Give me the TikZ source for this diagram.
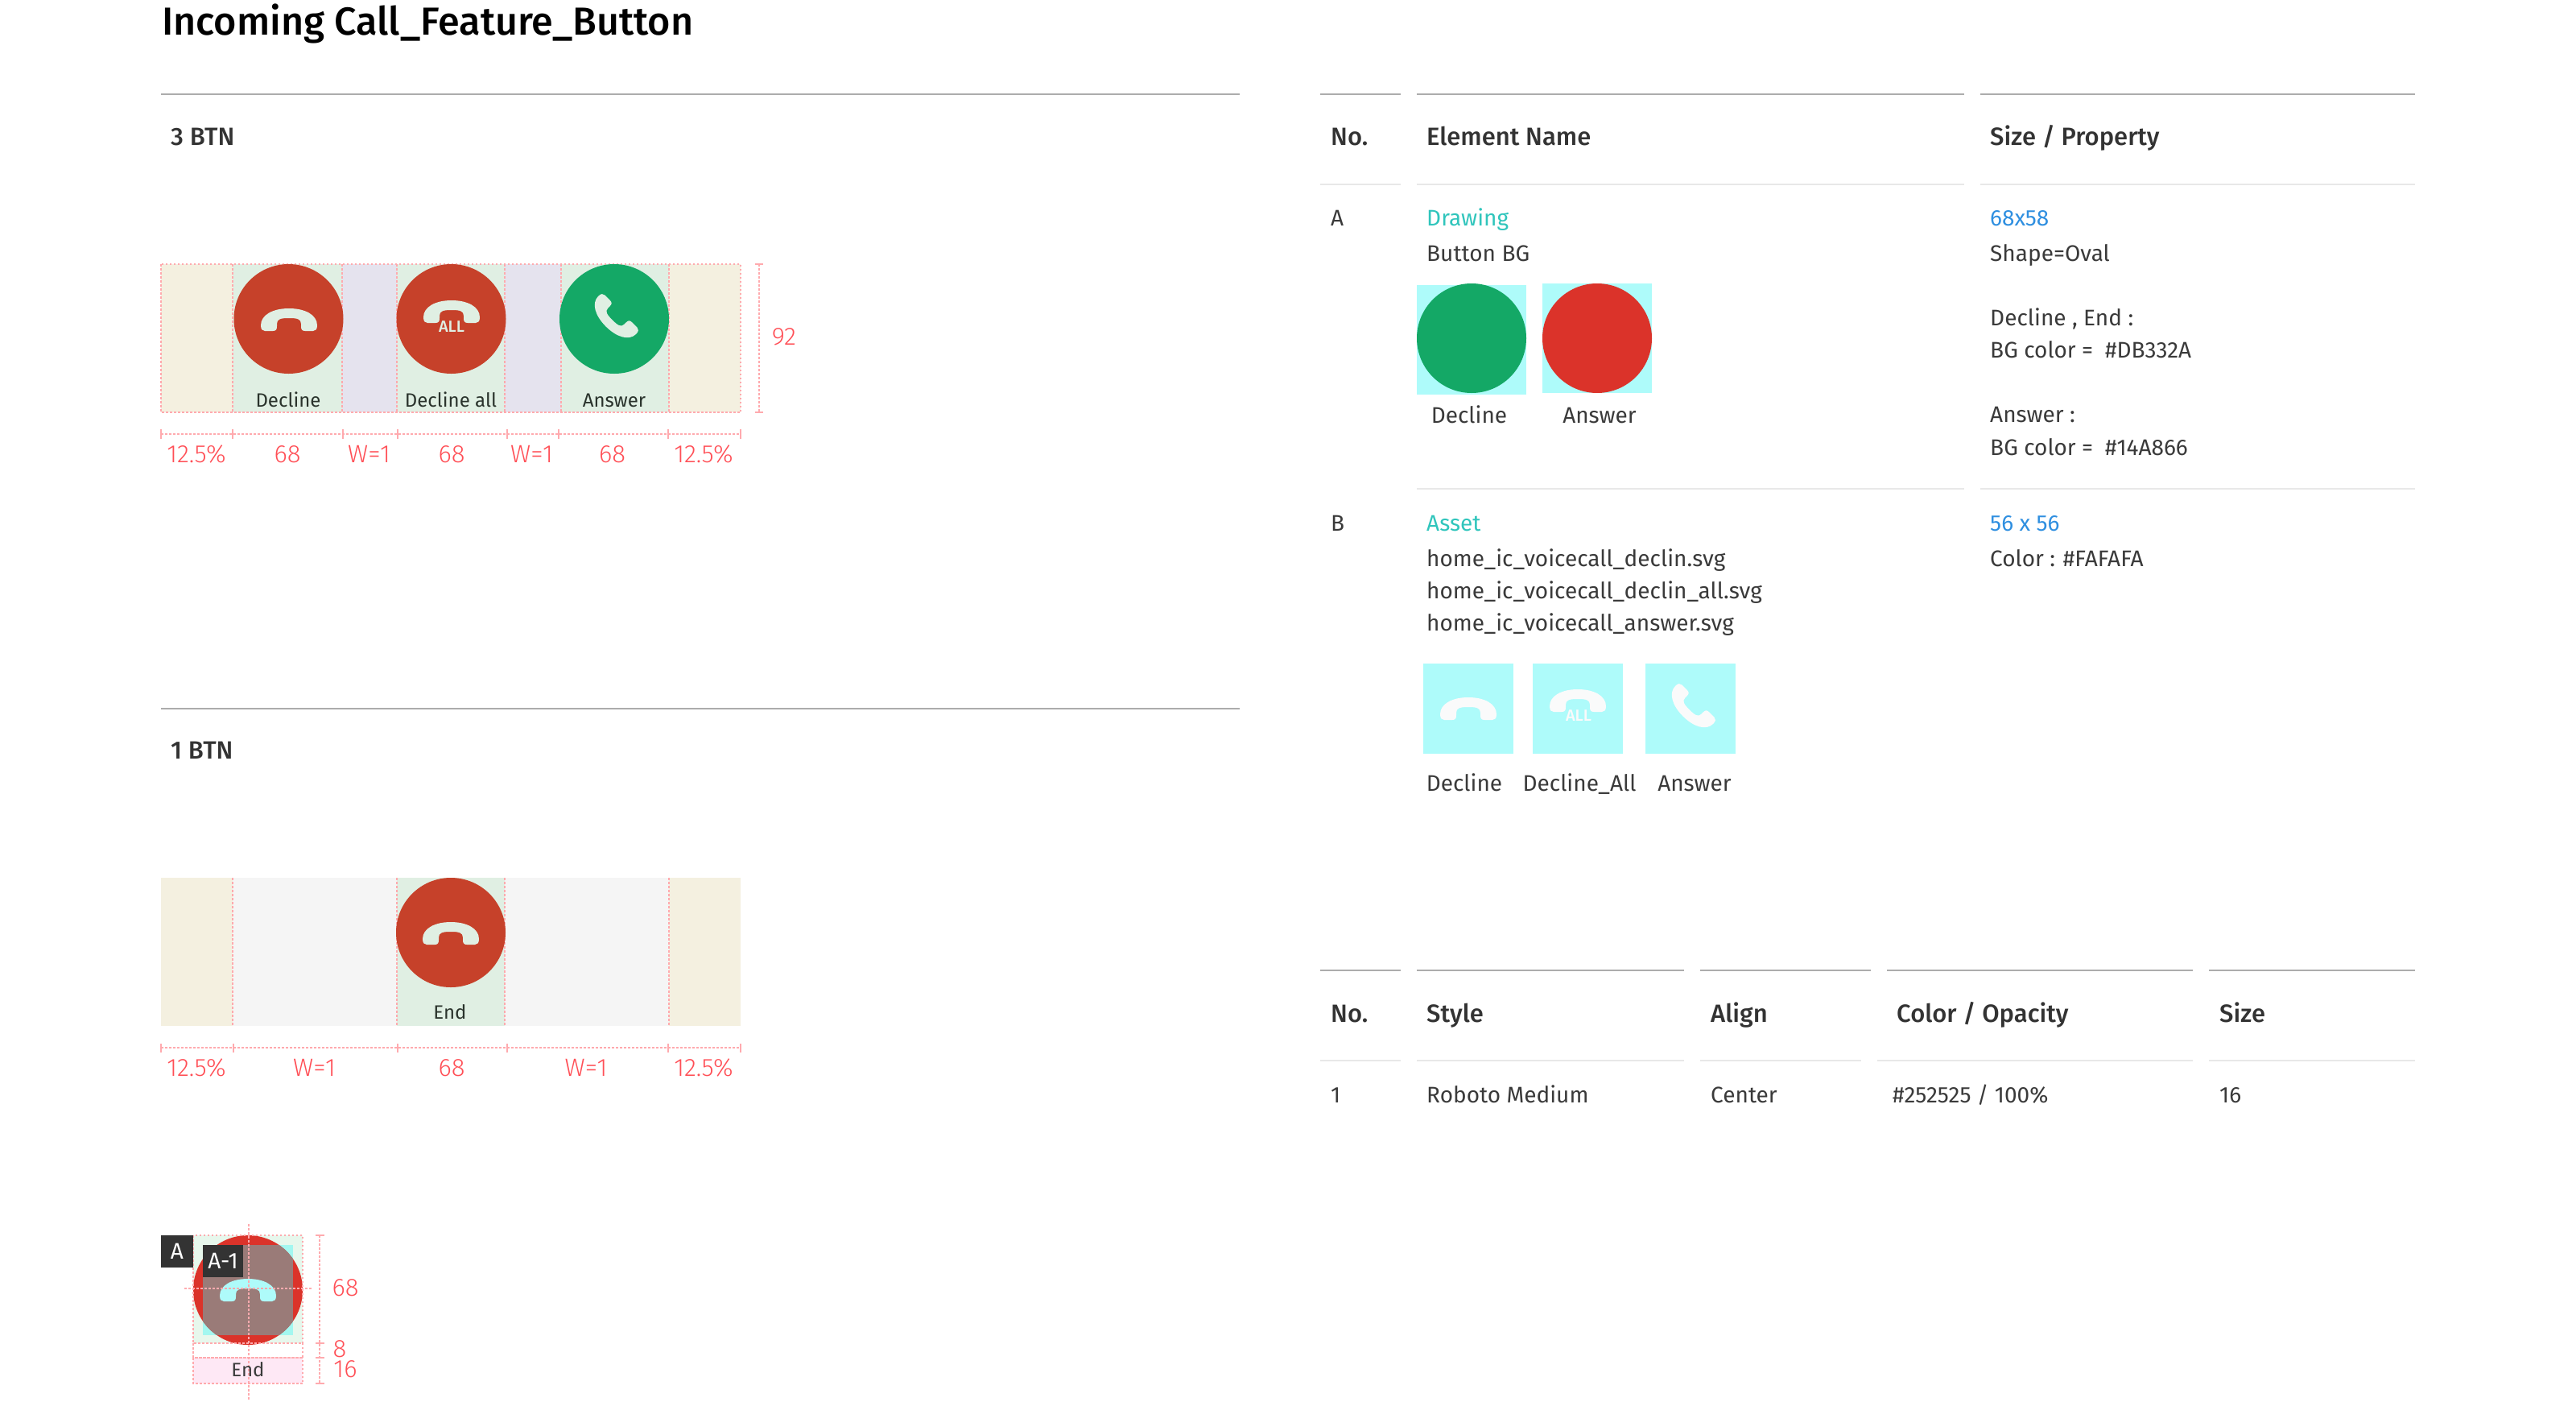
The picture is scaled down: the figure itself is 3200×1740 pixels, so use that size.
\documentclass[tikz,border=0pt]{standalone}
\usepackage{fontspec}
\setmainfont{Fira Sans}
\newfontfamily\lightfont{Fira Sans Light}
\newfontfamily\medfont{Fira Sans Medium}
\definecolor{rulegray}{HTML}{ACACAC}
\definecolor{hairgray}{HTML}{E8E8E8}
\definecolor{inktext}{HTML}{3A3A3A}
\definecolor{labelink}{HTML}{2A332C}
\definecolor{dimred}{HTML}{FF4F56}
\definecolor{dimpink}{HTML}{FFAAAE}
\definecolor{beigeband}{HTML}{F4F0E0}
\definecolor{greenband}{HTML}{E0EFE3}
\definecolor{lilacband}{HTML}{E5E3EE}
\definecolor{grayband}{HTML}{F5F5F5}
\definecolor{callred}{HTML}{C6412A}
\definecolor{callgreen}{HTML}{14A866}
\definecolor{specred}{HTML}{DB332A}
\definecolor{assetcyan}{HTML}{AEFBFA}
\definecolor{cornercyan}{HTML}{A3F7F0}
\definecolor{overlaygray}{HTML}{9A7B78}
\definecolor{paleband}{HTML}{E7F7EC}
\definecolor{pinkband}{HTML}{FEE8F5}
\definecolor{tealtext}{HTML}{30C5BC}
\definecolor{bluetext}{HTML}{2F8FE0}
\tikzset{
    txt/.style={anchor=base west,inner sep=0pt,text=inktext,font=\fontsize{28}{34}\selectfont},
    head/.style={anchor=base west,inner sep=0pt,text=black!80,font=\medfont\fontsize{31}{38}\selectfont},
    ctr/.style={anchor=base,inner sep=0pt,text=inktext,font=\fontsize{28}{34}\selectfont},
    btnlabel/.style={anchor=base,inner sep=0pt,text=labelink,font=\fontsize{24}{28}\selectfont},
    dimlabel/.style={anchor=base,inner sep=0pt,text=dimred,font=\lightfont\fontsize{31}{36}\selectfont},
    alllabel/.style={inner sep=0pt,font=\medfont\fontsize{20}{24}\selectfont},
    tag/.style={inner sep=0pt,text=white,font=\fontsize{28}{34}\selectfont},
    majorrule/.style={draw=rulegray,line width=2.5pt},
    minorrule/.style={draw=hairgray,line width=2pt},
    dotline/.style={draw=dimpink,line width=2pt,dash pattern=on 2.5pt off 2.5pt},
    dimtick/.style={draw=dimpink,line width=2pt},
    pics/handset/.style={code={
        \path[pic actions] (-35,7) .. controls (-35,-6) and (-20,-14) .. (0,-14)
            .. controls (20,-14) and (35,-6) .. (35,7)
            .. controls (35,12) and (33,14) .. (30,14) -- (20,14)
            .. controls (16,14) and (15,12) .. (15,8) -- (15,5)
            .. controls (15,-1) and (10,-2) .. (0,-2)
            .. controls (-10,-2) and (-15,-1) .. (-15,5) -- (-15,8)
            .. controls (-15,12) and (-16,14) .. (-20,14) -- (-30,14)
            .. controls (-33,14) and (-35,12) .. (-35,7) -- cycle;
    }},
}
\begin{document}
\begin{tikzpicture}[x=1pt,y=-1pt]
    \useasboundingbox (0,0) rectangle (3200,1740);

    % Title and section rules
    \node[anchor=base west,inner sep=0pt,font=\medfont\fontsize{48.5}{58}\selectfont] (title) at (201,43) {Incoming Call\_Feature\_Button};
    \draw[majorrule] (200,117) -- (1540,117);
    \draw[majorrule] (200,880) -- (1540,880);
    \node[head] (btn3) at (212,180) {3 BTN};
    \node[head] (btn1) at (212,942) {1 BTN};

    % 3 BTN bands
    \fill[beigeband] (200,328) rectangle (920,512);
    \fill[greenband] (289,328) rectangle (425,512);
    \fill[lilacband] (425,328) rectangle (493,512);
    \fill[greenband] (493,328) rectangle (627,512);
    \fill[lilacband] (627,328) rectangle (697,512);
    \fill[greenband] (697,328) rectangle (831,512);
    \draw[dotline] (200,328) rectangle (920,512);
    \foreach \bandx in {289,425,493,627,697,831}
        \draw[dotline] (\bandx,328) -- (\bandx,512);

    \fill[callred] (358.5,396) circle (68);
    \fill[callred] (560.5,396) circle (68);
    \fill[callgreen] (763,396) circle (68);
    \pic[fill=greenband] at (359,397) {handset};
    \pic[fill=greenband] at (561,387) {handset};
    \pic[fill=greenband,rotate=135,scale=0.95] at (762,396) {handset};
    \node[alllabel,text=greenband] (all3) at (561,406) {ALL};
    \node[btnlabel] (declinetxt) at (358,505) {Decline};
    \node[btnlabel] (declinealltxt) at (560,505) {Decline all};
    \node[btnlabel] (answertxt) at (763,505) {Answer};

    % 3 BTN dimensions
    \draw[dotline] (200,539) -- (920,539);
    \foreach \tickx in {200,289,426,494,630,694,830,920}
        \draw[dimtick] (\tickx,533) -- (\tickx,545);
    \foreach \labx/\labt [count=\i] in {244/12.5\%,357/68,458.5/W=1,561/68,660.5/W=1,760.5/68,874/12.5\%}
        \node[dimlabel] (dima\i) at (\labx,574) {\labt};
    \draw[dotline] (943,328) -- (943,512);
    \draw[dimtick] (938,328) -- (948,328);
    \draw[dimtick] (938,512) -- (948,512);
    \node[dimlabel] (dimh) at (974,428) {92};

    % 1 BTN bands
    \fill[beigeband] (200,1090) rectangle (920,1274);
    \fill[grayband] (289,1090) rectangle (831,1274);
    \fill[greenband] (493,1090) rectangle (627,1274);
    \foreach \bandx in {289,493,627,831}
        \draw[dotline] (\bandx,1090) -- (\bandx,1274);
    \fill[callred] (560,1158) circle (68);
    \pic[fill=greenband] at (560,1159) {handset};
    \node[btnlabel] (endtxt) at (559,1265) {End};

    % 1 BTN dimensions
    \draw[dotline] (200,1301) -- (920,1301);
    \foreach \tickx in {200,290,494,630,830,920}
        \draw[dimtick] (\tickx,1296) -- (\tickx,1307);
    \foreach \labx/\labt [count=\i] in {244/12.5\%,390.5/W=1,561/68,728/W=1,874/12.5\%}
        \node[dimlabel] (dimb\i) at (\labx,1336) {\labt};

    % Detail A
    \fill[paleband] (240,1534) rectangle (376,1668);
    \fill[cornercyan] (252,1546) rectangle (364,1658);
    \fill[specred] (308,1602) circle (68);
    \begin{scope}
        \clip (308,1602) circle (68);
        \fill[overlaygray] (252,1546) rectangle (364,1658);
    \end{scope}
    \pic[fill=assetcyan] at (308,1602) {handset};
    \fill[pinkband] (240,1686) rectangle (376,1718);
    \draw[dotline] (240,1534) rectangle (376,1668);
    \draw[dotline] (240,1668) rectangle (376,1686);
    \draw[dotline] (240,1686) rectangle (376,1718);
    \draw[dotline] (309,1520) -- (309,1738);
    \draw[dotline] (229,1600) -- (387,1600);
    \node[tag,fill=black!80,minimum width=40pt,minimum height=40pt] (taga) at (220,1554) {A};
    \node[tag,fill=black!80,minimum width=50pt,minimum height=40pt] (taga1) at (277,1566) {A-1};
    \node[btnlabel,text=inktext] (endtxt2) at (308,1709) {End};
    \draw[dotline] (397,1534) -- (397,1718);
    \foreach \ticky in {1534,1668,1686,1718}
        \draw[dimtick] (392,\ticky) -- (403,\ticky);
    \node[dimlabel] (dim68) at (429,1609) {68};
    \node[dimlabel] (dim8) at (422,1685) {8};
    \node[dimlabel] (dim16) at (429,1710) {16};

    % Element table rules
    \foreach \ax/\bx in {1640/1740,1760/2440,2460/3000}{
        \draw[majorrule] (\ax,117) -- (\bx,117);
        \draw[minorrule] (\ax,229) -- (\bx,229);
    }
    \foreach \ax/\bx in {1760/2440,2460/3000}
        \draw[minorrule] (\ax,607) -- (\bx,607);
    \node[head] (hno) at (1653,180) {No.};
    \node[head] (hname) at (1772,180) {Element Name};
    \node[head] (hsize) at (2472,180) {Size / Property};

    % Row A
    \node[txt] (rowa) at (1653,280) {A};
    \node[txt,text=tealtext] (drawing) at (1772,280) {Drawing};
    \node[txt] (buttonbg) at (1772,324) {Button BG};
    \node[txt,text=bluetext] (size68) at (2472,280) {68x58};
    \node[txt] (shape) at (2472,324) {Shape=Oval};
    \node[txt] (declend) at (2472,404) {Decline , End :};
    \node[txt] (bgred) at (2472,444) {BG color =\ \ \#DB332A};
    \node[txt] (answerc) at (2472,524) {Answer :};
    \node[txt] (bggreen) at (2472,565) {BG color =\ \ \#14A866};
    \fill[assetcyan] (1760,354) rectangle (1896,490);
    \fill[callgreen] (1828,420) circle (68);
    \fill[assetcyan] (1916,352) rectangle (2052,488);
    \fill[specred] (1984,420) circle (68);
    \node[ctr] (declinea) at (1825,525) {Decline};
    \node[ctr] (answera) at (1987,525) {Answer};

    % Row B
    \node[txt] (rowb) at (1653,659) {B};
    \node[txt,text=tealtext] (asset) at (1772,659) {Asset};
    \node[txt] (file1) at (1772,703) {home\_ic\_voicecall\_declin.svg};
    \node[txt] (file2) at (1772,743) {home\_ic\_voicecall\_declin\_all.svg};
    \node[txt] (file3) at (1772,783) {home\_ic\_voicecall\_answer.svg};
    \node[txt,text=bluetext] (size56) at (2472,659) {56 x 56};
    \node[txt] (colorfa) at (2472,703) {Color : \#FAFAFA};
    \fill[assetcyan] (1768,824) rectangle (1880,936);
    \fill[assetcyan] (1904,824) rectangle (2016,936);
    \fill[assetcyan] (2044,824) rectangle (2156,936);
    \pic[fill=black!2] at (1824,880) {handset};
    \pic[fill=black!2] at (1960,870) {handset};
    \pic[fill=black!2,rotate=135,scale=0.95] at (2100,880) {handset};
    \node[alllabel,text=black!2] (allb) at (1961,889) {ALL};
    \node[ctr] (declineb) at (1819,982) {Decline};
    \node[ctr] (declineallb) at (1962,982) {Decline\_All};
    \node[ctr] (answerb) at (2105,982) {Answer};

    % Style table
    \foreach \ax/\bx in {1640/1740,1760/2092,2112/2324,2344/2724,2744/3000}
        \draw[majorrule] (\ax,1205) -- (\bx,1205);
    \foreach \ax/\bx in {1640/1740,1760/2092,2112/2312,2332/2724,2744/3000}
        \draw[minorrule] (\ax,1317) -- (\bx,1317);
    \node[head] (sno) at (1653,1269) {No.};
    \node[head] (sstyle) at (1772,1269) {Style};
    \node[head] (salign) at (2125,1269) {Align};
    \node[head] (scolor) at (2356,1269) {Color / Opacity};
    \node[head] (ssize) at (2757,1269) {Size};
    \node[txt] (one) at (1653,1369) {1};
    \node[txt] (roboto) at (1772,1369) {Roboto Medium};
    \node[txt] (center) at (2125,1369) {Center};
    \node[txt] (opacity) at (2351,1369) {\#252525 / 100\%};
    \node[txt] (sixteen) at (2757,1369) {16};
\end{tikzpicture}
\end{document}
